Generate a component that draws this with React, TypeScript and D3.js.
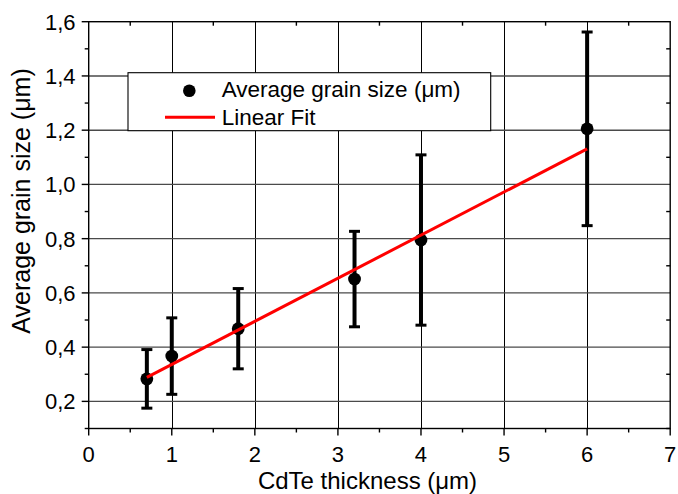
import React from "react";
import * as d3 from "d3";

// Measured grain size versus CdTe layer thickness
const thickness = [0.7, 1.0, 1.8, 3.2, 4.0, 6.0];
const grainSize = [0.283, 0.367, 0.468, 0.651, 0.795, 1.205];
const grainError = [0.108, 0.141, 0.148, 0.176, 0.314, 0.357];

// Linear fit coefficients (y = a + b·x), drawn over the measured range
const fitIntercept = 0.177;
const fitSlope = 0.159;

const xTicks = [0, 1, 2, 3, 4, 5, 6, 7];
const xMinorTicks = [0.5, 1.5, 2.5, 3.5, 4.5, 5.5, 6.5];
const yTicks = [0.2, 0.4, 0.6, 0.8, 1.0, 1.2, 1.4, 1.6];
const yMinorTicks = [0.1, 0.3, 0.5, 0.7, 0.9, 1.1, 1.3, 1.5];

const xLabel = "CdTe thickness (\u03bcm)";
const yLabel = "Average grain size (\u03bcm)";
const legendPoints = "Average grain size (\u03bcm)";
const legendFit = "Linear Fit";

const W = 678;
const H = 494;
const plot = { left: 88.7, right: 670.2, top: 21.7, bottom: 428.5 };
const FONT = "'Liberation Sans', Arial, Helvetica, sans-serif";

export default function App() {
  const x = d3.scaleLinear().domain([0, 7]).range([plot.left, plot.right]);
  const y = d3.scaleLinear().domain([0.1, 1.6]).range([plot.bottom, plot.top]);

  const fitX = [d3.min(thickness)!, d3.max(thickness)!];
  const fitLine = d3
    .line<number>()
    .x((v) => x(v))
    .y((v) => y(fitIntercept + fitSlope * v))(fitX);

  const fmt = (v: number) => v.toFixed(1).replace(".", ",");
  const crisp = (v: number) => Math.round(v) + 0.5;

  const leg = { x: 128, y: 72.7, w: 362.7, h: 58 };

  return (
    <svg
      width={W}
      height={H}
      style={{ position: "absolute", left: 0, top: 0, background: "#fff" }}
      fontFamily={FONT}
    >
      <rect x={0} y={0} width={W} height={H} fill="#fff" />

      {/* grid */}
      <g>
        {xTicks.slice(1, -1).map((t) => (
          <line
            key={"gx" + t}
            x1={crisp(x(t))}
            x2={crisp(x(t))}
            y1={plot.top}
            y2={plot.bottom}
            stroke="#000"
            strokeWidth={1}
          />
        ))}
        {yTicks.slice(0, -1).map((t) => (
          <line
            key={"gy" + t}
            x1={plot.left}
            x2={plot.right}
            y1={y(t)}
            y2={y(t)}
            stroke="#4a4a4a"
            strokeWidth={1.4}
          />
        ))}
      </g>

      {/* frame */}
      <rect
        x={plot.left}
        y={plot.top}
        width={plot.right - plot.left}
        height={plot.bottom - plot.top}
        fill="none"
        stroke="#000"
        strokeWidth={1.4}
      />

      {/* axis ticks */}
      <g stroke="#000" strokeWidth={1.4}>
        {xTicks.map((t) => (
          <line key={"xt" + t} x1={x(t)} x2={x(t)} y1={plot.bottom} y2={plot.bottom + 7} />
        ))}
        {xMinorTicks.map((t) => (
          <line key={"xm" + t} x1={x(t)} x2={x(t)} y1={plot.bottom} y2={plot.bottom + 4} />
        ))}
        {xMinorTicks.map((t) => (
          <line key={"xtm" + t} x1={x(t)} x2={x(t)} y1={plot.top} y2={plot.top + 4} />
        ))}
        {yTicks.map((t) => (
          <line key={"yt" + t} x1={plot.left - 7} x2={plot.left} y1={y(t)} y2={y(t)} />
        ))}
        {yMinorTicks.map((t) => (
          <line key={"ym" + t} x1={plot.left - 4} x2={plot.left} y1={y(t)} y2={y(t)} />
        ))}
        {yMinorTicks.map((t) => (
          <line key={"yrm" + t} x1={plot.right - 4} x2={plot.right} y1={y(t)} y2={y(t)} />
        ))}
      </g>

      {/* tick labels */}
      <g fontSize={22} fill="#000">
        {xTicks.map((t) => (
          <text key={"xl" + t} x={x(t)} y={461.7} textAnchor="middle">
            {t}
          </text>
        ))}
        {yTicks.map((t) => (
          <text key={"yl" + t} x={75.5} y={y(t) + 8} textAnchor="end">
            {fmt(t)}
          </text>
        ))}
      </g>

      {/* axis titles */}
      <text x={367.5} y={489.3} textAnchor="middle" fontSize={24} fill="#000">
        {xLabel}
      </text>
      <text
        transform={`translate(29.5, 201) rotate(-90)`}
        textAnchor="middle"
        fontSize={25}
        fill="#000"
      >
        {yLabel}
      </text>

      {/* error bars */}
      <g stroke="#000">
        {thickness.map((t, i) => {
          const cx = x(t);
          const top = y(grainSize[i] + grainError[i]);
          const bot = y(grainSize[i] - grainError[i]);
          return (
            <g key={"eb" + i}>
              <line x1={cx} x2={cx} y1={top} y2={bot} strokeWidth={4} />
              <line x1={cx - 5.5} x2={cx + 5.5} y1={top} y2={top} strokeWidth={3} />
              <line x1={cx - 5.5} x2={cx + 5.5} y1={bot} y2={bot} strokeWidth={3} />
            </g>
          );
        })}
      </g>

      {/* points */}
      <g fill="#000">
        {thickness.map((t, i) => (
          <circle key={"pt" + i} cx={x(t)} cy={y(grainSize[i])} r={6.4} />
        ))}
      </g>

      {/* linear fit */}
      <path d={fitLine ?? ""} fill="none" stroke="#ff0000" strokeWidth={3} />

      {/* legend */}
      <g>
        <rect
          x={leg.x}
          y={leg.y}
          width={leg.w}
          height={leg.h}
          fill="#fff"
          stroke="#000"
          strokeWidth={1.1}
        />
        <circle cx={189.3} cy={90.7} r={6.3} fill="#000" />
        <line x1={165} x2={215} y1={117.3} y2={117.3} stroke="#ff0000" strokeWidth={3} />
        <text x={221.7} y={96.7} fontSize={22.5} fill="#000">
          {legendPoints}
        </text>
        <text x={221.7} y={125} fontSize={22.5} fill="#000">
          {legendFit}
        </text>
      </g>
    </svg>
  );
}
